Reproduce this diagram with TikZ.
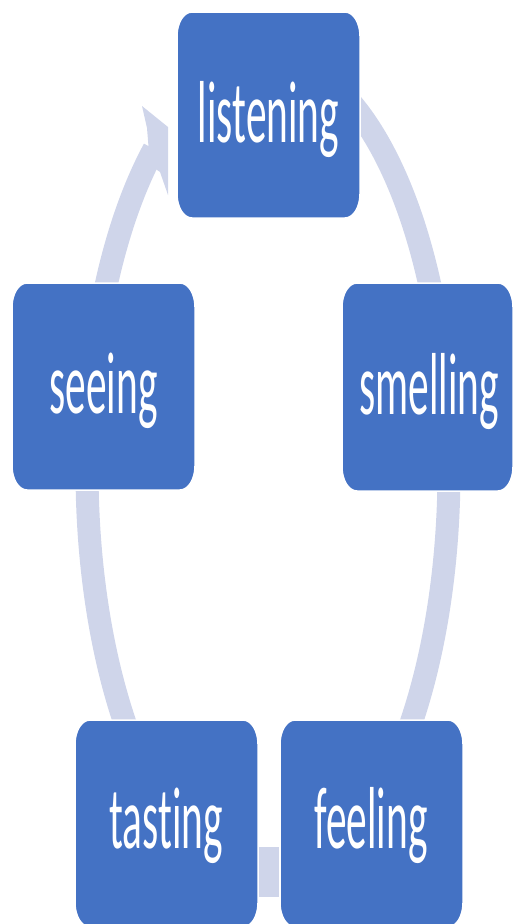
\documentclass[tikz,border=0pt]{standalone}
\usepackage{fontspec}
\usepackage{graphicx}
\newfontfamily\boxfont[Ligatures={NoCommon}]{Carlito}
\definecolor{boxblue}{HTML}{4472C4}
\definecolor{arcc}{HTML}{CFD5EA}
% rounded box with elliptic corners: left, top, right, bottom (pixels, measured downward)
\newcommand\ebox[4]{%
  \filldraw[boxst] (#1,-#2-24) arc[start angle=180,end angle=90,x radius=15pt,y radius=24pt]
    -- (#3-15,-#2) arc[start angle=90,end angle=0,x radius=15pt,y radius=24pt]
    -- (#3,-#4+24) arc[start angle=0,end angle=-90,x radius=15pt,y radius=24pt]
    -- (#1+15,-#4) arc[start angle=270,end angle=180,x radius=15pt,y radius=24pt]
    -- cycle;}
\newcommand\lbltext[1]{\scalebox{0.47}[1]{\boxfont\fontsize{88}{92}\selectfont #1}}
\begin{document}
\begin{tikzpicture}[x=1pt,y=1pt,
  arcst/.style={draw=arcc,line width=23pt},
  boxst/.style={fill=boxblue,draw=white,line width=1.5pt},
  lbl/.style={text=white,inner sep=0pt,text height=60pt,text depth=6pt}]
\useasboundingbox (0,0) rectangle (514,-924);
% cycle arcs (behind the boxes)
\draw[arcst] ([shift={(268,-470)}]80:181 and 413) arc[start angle=80,end angle=10,x radius=181,y radius=413];
\draw[arcst] ([shift={(268,-470)}]0:181 and 413) arc[start angle=0,end angle=-45,x radius=181,y radius=413];
\fill[arcc] (257,-847) rectangle (279,-897);
\draw[arcst] ([shift={(268,-470)}]225:181 and 413) arc[start angle=225,end angle=180,x radius=181,y radius=413];
\draw[arcst] ([shift={(268,-470)}]165:181 and 413) arc[start angle=165,end angle=129,x radius=181,y radius=413];
\fill[arcc] (150,-165) -- (147,-128) -- (142,-106) -- (168,-127) -- (168,-195) -- (160,-172) -- cycle;
% boxes
\ebox{177}{12}{360}{218}
\ebox{342}{283}{513}{491}
\ebox{12}{283}{195}{490}
\ebox{75}{720}{258}{927}
\ebox{280}{720}{463}{927}
% labels
\node[lbl] (listening) at (268.5,-115) {\lbltext{listening}};
\node[lbl] (smelling) at (429,-387) {\lbltext{smelling}};
\node[lbl] (seeing) at (103.5,-386.5) {\lbltext{seeing}};
\node[lbl] (tasting) at (166,-821) {\lbltext{tasting}};
\node[lbl] (feeling) at (371,-821) {\lbltext{feeling}};
\end{tikzpicture}
\end{document}
